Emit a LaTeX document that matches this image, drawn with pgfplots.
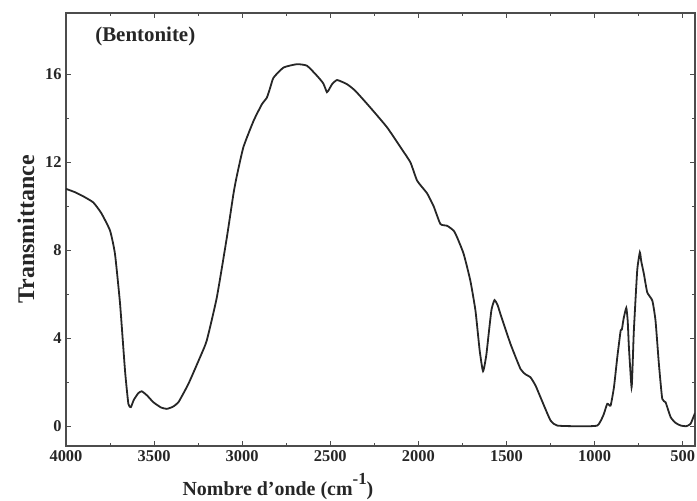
\documentclass[border=0pt]{standalone}
\usepackage{pgfplots}
\pgfplotsset{compat=1.18}
\usepackage{fontspec}
\setmainfont{Liberation Serif}
\begin{document}
\begin{tikzpicture}
\begin{axis}[
  scale only axis,
  width=629bp, height=433bp,
  at={(0,0)}, anchor=south west,
  x dir=reverse,
  xmin=430, xmax=4000,
  ymin=-0.9, ymax=18.8,
  xtick={500,1000,...,4000},
  minor x tick num=1,
  ytick={0,4,8,12,16},
  minor y tick num=1,
  tick align=inside,
  major tick length=5bp,
  minor tick length=3bp,
  axis line style={black!70, line width=1.3bp},
  every tick/.style={black!70, line width=1bp},
  /pgf/number format/assume math mode=true,
  /pgf/number format/set thousands separator={},
  tick label style={font=\fontsize{16.5}{18}\selectfont\bfseries, text=black!85},
  xticklabel style={yshift=-1bp},
  yticklabel style={xshift=-1bp},
  xlabel={Nombre d'onde (cm\raisebox{0.55em}{\fontsize{17}{18}\selectfont\bfseries -1})},
  ylabel={Transmittance},
  xlabel style={font=\fontsize{20}{22}\selectfont\bfseries, text=black!85, at={(axis description cs:0.337,0)}, anchor=north, yshift=-24bp},
  ylabel style={font=\fontsize{24}{26}\selectfont\bfseries, text=black!85, at={(axis description cs:0,0.5)}, anchor=south, yshift=28bp},
]
\addplot[black!85, line width=1.8bp, smooth, tension=0.3] coordinates {
(4000,10.8) (3950,10.65) (3900,10.45) (3845,10.18) (3800,9.7) (3750,8.9)
(3722,7.84) (3693,5.56) (3665,2.53) (3646,1.02) (3632,0.87) (3615,1.2)
(3590,1.5) (3570,1.59) (3540,1.4) (3504,1.09) (3460,0.85) (3428,0.79)
(3395,0.88) (3362,1.09) (3305,1.93) (3239,3.14) (3201,3.9) (3144,5.86)
(3087,8.59) (3049,10.6) (3030,11.4) (2993,12.7) (2935,13.9) (2888,14.65)
(2860,14.95) (2841,15.4) (2822,15.86) (2765,16.32) (2689,16.47) (2632,16.4)
(2575,15.94) (2540,15.6) (2519,15.2) (2505,15.35) (2490,15.56) (2461,15.75)
(2405,15.56) (2358,15.26) (2273,14.5) (2178,13.6) (2102,12.7) (2045,12.0)
(2007,11.17) (1951,10.6) (1913,10.0) (1875,9.2) (1837,9.12) (1800,8.9)
(1780,8.59) (1743,7.84) (1705,6.62) (1676,5.26) (1652,3.44) (1633,2.5)
(1615,3.2) (1601,4.2) (1585,5.3) (1568,5.74) (1550,5.5) (1534,5.1)
(1477,3.74) (1420,2.6) (1390,2.35) (1364,2.23) (1335,1.85) (1307,1.32)
(1250,0.26) (1212,0.03) (1100,0.0) (985,0.03) (950,0.5) (928,1.02)
(909,0.94) (890,1.77) (871,3.14) (852,4.35) (845,4.4) (835,4.9)
(820,5.38) (812,4.8) (805,3.59) (790,1.77) (783,3.0) (777,4.35)
(758,7.08) (743,7.91) (735,7.5) (720,6.93) (701,6.09) (672,5.71)
(654,4.8) (635,2.84) (616,1.25) (597,1.09) (568,0.41) (540,0.15)
(511,0.03) (480,0.0) (455,0.11) (430,0.6)
};
\node[font=\fontsize{21}{23}\selectfont\bfseries, text=black!85, anchor=west] at (axis description cs:0.041,0.945) {(Bentonite)};
\end{axis}
\pgfresetboundingbox
\useasboundingbox (-66bp,-55bp) rectangle (631bp,446bp);
\end{tikzpicture}
\end{document}
